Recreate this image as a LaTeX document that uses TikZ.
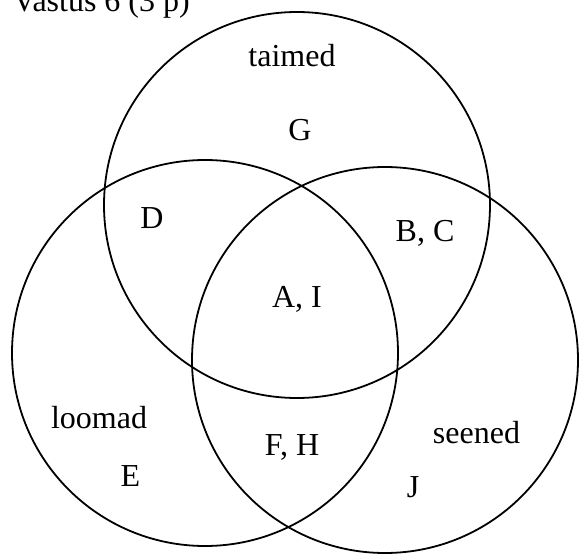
\documentclass[tikz,border=0pt]{standalone}
\usepackage{fontspec}
\setmainfont{Liberation Serif}
\begin{document}
\begin{tikzpicture}[x=1pt,y=-1pt,
  setc/.style={circle,draw=black,line width=1.8pt,minimum size=386pt,inner sep=0pt},
  lbl/.style={anchor=base,inner sep=0pt,font=\fontsize{32}{38}\selectfont}]
\clip (0,0) rectangle (579,554);
\node[setc] (T) at (297,205) {};
\node[setc] (L) at (205,353) {};
\node[setc] (R) at (385,360) {};
\node[lbl,anchor=base east] (title) at (190,11) {Vastus 6 (3 p)};
\node[lbl] (taimed) at (292,66) {taimed};
\node[lbl] (G) at (300,140) {G};
\node[lbl] (D) at (152,228) {D};
\node[lbl] (BC) at (425,241) {B, C};
\node[lbl] (AI) at (297,307) {A, I};
\node[lbl] (loomad) at (99,428) {loomad};
\node[lbl] (E) at (130.5,486) {E};
\node[lbl] (FH) at (292,455) {F, H};
\node[lbl] (seened) at (476.5,443) {seened};
\node[lbl] (J) at (413,497) {J};
\end{tikzpicture}
\end{document}
